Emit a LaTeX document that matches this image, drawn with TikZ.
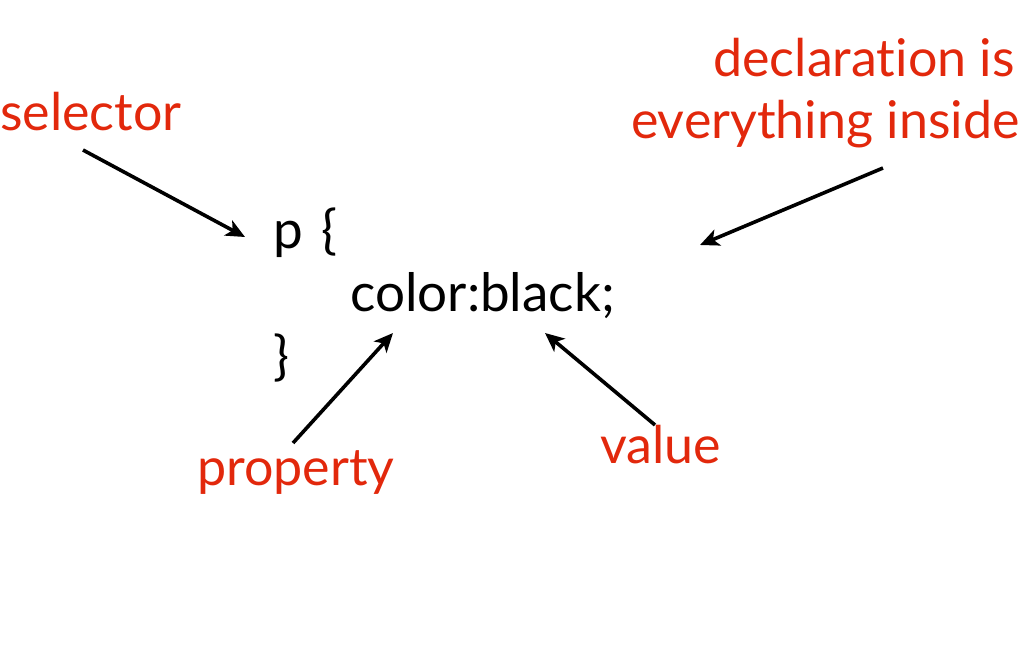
\documentclass[tikz,border=0pt]{standalone}
\usepackage{fontspec}
\setmainfont{Lato}[Ligatures={NoCommon}]
\usetikzlibrary{arrows.meta}
\definecolor{lblred}{RGB}{226,40,12}
\tikzset{
  lbl/.style={text=lblred, inner sep=0pt, font=\fontsize{52}{58}\selectfont},
  code/.style={text=black, inner sep=0pt, font=\fontsize{53}{60}\selectfont},
  arr/.style={draw=black, line width=3.6pt, -{Stealth[length=19pt,width=17pt,inset=5pt]}}
}
\begin{document}
\begin{tikzpicture}[x=1pt,y=-1pt]
\useasboundingbox (0,0) rectangle (1024,666);
\node[code, anchor=base west] (p) at (273,248) {p\hspace{0.35em}\{};
\node[code, anchor=base west] (decl) at (350,311) {color:black;};
\node[code, anchor=base west] (close) at (273,374) {\}};
\node[lbl, anchor=base west] (sel) at (0,131) {selector};
\node[lbl, anchor=base east] (d1) at (1015,77) {declaration is};
\node[lbl, anchor=base east] (d2) at (1020,138) {everything inside};
\node[lbl, anchor=base west] (prop) at (197,485) {property};
\node[lbl, anchor=base west] (val) at (600,463) {value};
\coordinate (selS) at (83,150);
\coordinate (selE) at (245,237);
\coordinate (dS) at (883,168);
\coordinate (dE) at (700,245);
\coordinate (pS) at (293,443);
\coordinate (pE) at (393,333);
\coordinate (vS) at (655,425);
\coordinate (vE) at (545,333);
\draw[arr] (selS) -- (selE);
\draw[arr] (dS) -- (dE);
\draw[arr] (pS) -- (pE);
\draw[arr] (vS) -- (vE);
\end{tikzpicture}
\end{document}
